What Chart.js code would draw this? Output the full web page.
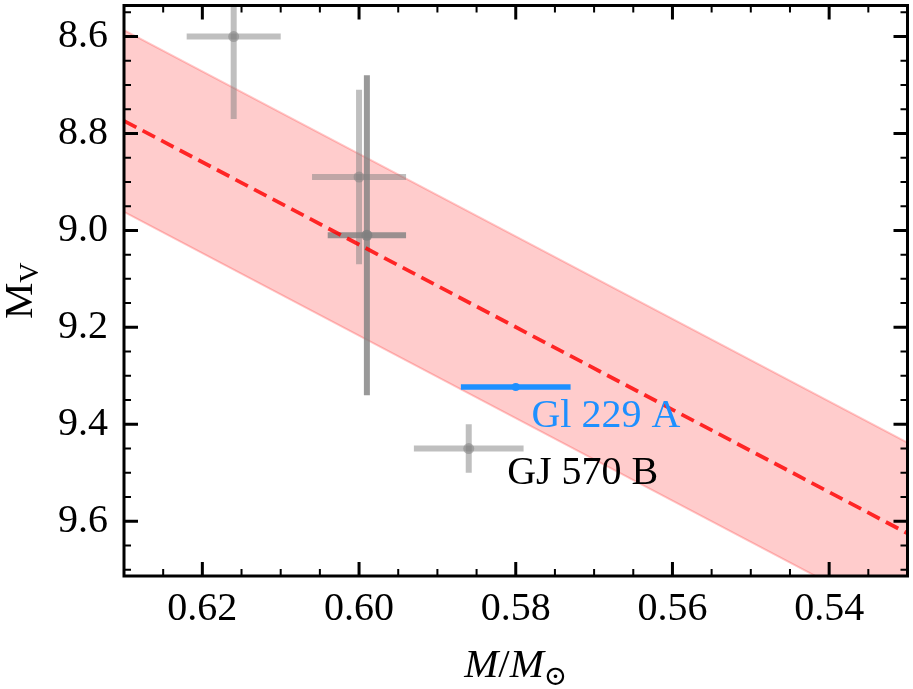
<!DOCTYPE html>
<html>
<head>
<meta charset="utf-8">
<script src="https://cdn.jsdelivr.net/npm/chart.js@4.4.1/dist/chart.umd.min.js"></script>
<style>
  body { margin: 0; background: #fff; }
  #wrap { width: 913px; height: 689px; }
</style>
</head>
<body>
<div id="wrap"><canvas id="mlr" width="913" height="689"></canvas></div>
<script>
// comparison stars (mass, M_V)
var starMass = [0.616, 0.600, 0.599, 0.586];
var starMassErr = [0.006, 0.006, 0.005, 0.007];
var starMv = [8.60, 8.89, 9.01, 9.45];
var starMvErr = [0.17, 0.18, 0.33, 0.05];

// Gl 229 A
var targetMass = [0.580];
var targetMassErr = [0.007];
var targetMv = [9.323];

// mass-luminosity relation and its band
var fitMass = [0.63, 0.53];
var fitMv = [8.774, 9.625];
var bandUpper = [8.587, 9.438];
var bandLower = [8.962, 9.813];

var xTicks = [0.62, 0.60, 0.58, 0.56, 0.54];
var yTicks = [8.6, 8.8, 9.0, 9.2, 9.4, 9.6];

var SERIF = "'Liberation Serif', 'DejaVu Serif', serif";

function pts(xs, ys) {
  return xs.map(function (x, i) { return { x: x, y: ys[i] }; });
}

// styles
var starShade = ["rgba(128,128,128,0.5)", "rgba(128,128,128,0.5)", "rgba(128,128,128,0.8)", "rgba(128,128,128,0.5)"];
var blue = "#1e90ff";

var datasets = [];

// band (drawn at the back)
datasets.push({
  data: pts(fitMass, bandUpper),
  showLine: true, fill: false, pointRadius: 0,
  borderColor: "rgba(255,0,0,0.22)", borderWidth: 2, clip: 0, order: 100
});
datasets.push({
  data: pts(fitMass, bandLower),
  showLine: true, fill: "-1", backgroundColor: "rgba(255,0,0,0.2)", pointRadius: 0,
  borderColor: "rgba(255,0,0,0.22)", borderWidth: 2, clip: 0, order: 99
});

// grey error bars
starMass.forEach(function (m, i) {
  datasets.push({
    data: [{ x: m - starMassErr[i], y: starMv[i] }, { x: m + starMassErr[i], y: starMv[i] }],
    showLine: true, pointRadius: 0, borderColor: starShade[i], borderWidth: 6, clip: 0, order: 50 - i
  });
  datasets.push({
    data: [{ x: m, y: starMv[i] - starMvErr[i] }, { x: m, y: starMv[i] + starMvErr[i] }],
    showLine: true, pointRadius: 0, borderColor: starShade[i], borderWidth: 6, clip: 0, order: 50 - i
  });
});
datasets.push({
  data: pts(starMass, starMv),
  pointRadius: 5.5, pointBorderWidth: 0, pointBackgroundColor: starShade, clip: 0, order: 40
});

// fit line
datasets.push({
  data: pts(fitMass, fitMv),
  showLine: true, pointRadius: 0, borderColor: "rgba(255,0,0,0.82)", borderWidth: 3.8,
  borderDash: [14, 7], clip: 0, order: 10
});

// Gl 229 A
datasets.push({
  data: [{ x: targetMass[0] - targetMassErr[0], y: targetMv[0] }, { x: targetMass[0] + targetMassErr[0], y: targetMv[0] }],
  showLine: true, pointRadius: 0, borderColor: blue, borderWidth: 5.5, clip: 0, order: 5
});
datasets.push({
  data: pts(targetMass, targetMv),
  pointRadius: 4, pointBorderWidth: 0, pointBackgroundColor: blue, clip: 0, order: 4
});

// text labels in data coordinates
var notes = [
  { text: "Gl 229 A", x: 0.578, y: 9.4055, color: blue },
  { text: "GJ 570 B", x: 0.5811, y: 9.5225, color: "#000" }
];

var frameTicks = {
  id: "frameTicks",
  afterDatasetsDraw: function (chart) {
    var c = chart.ctx, a = chart.chartArea;
    var sx = chart.scales.x, sy = chart.scales.y;
    c.save();
    c.strokeStyle = "#000";

    function xt(v, len, w) {
      var p = sx.getPixelForValue(v);
      c.lineWidth = w;
      c.beginPath();
      c.moveTo(p, a.bottom); c.lineTo(p, a.bottom - len);
      c.moveTo(p, a.top); c.lineTo(p, a.top + len);
      c.stroke();
    }
    function yt(v, len, w) {
      var p = sy.getPixelForValue(v);
      c.lineWidth = w;
      c.beginPath();
      c.moveTo(a.left, p); c.lineTo(a.left + len, p);
      c.moveTo(a.right, p); c.lineTo(a.right - len, p);
      c.stroke();
    }
    var v;
    for (v = 0.535; v < 0.63; v += 0.005) {
      var isMajor = xTicks.some(function (t) { return Math.abs(t - v) < 1e-6; });
      if (!isMajor) xt(v, 7, 2);
    }
    for (v = 8.55; v < 9.72; v += 0.05) {
      var isMaj = yTicks.some(function (t) { return Math.abs(t - v) < 1e-6; });
      if (!isMaj) yt(v, 7, 2);
    }
    xTicks.forEach(function (t) { xt(t, 14, 3); });
    yTicks.forEach(function (t) { yt(t, 14, 3); });

    c.lineWidth = 3;
    c.strokeRect(a.left, a.top, a.right - a.left, a.bottom - a.top);
    c.restore();
  },
  afterDraw: function (chart) {
    var c = chart.ctx, a = chart.chartArea;
    var sx = chart.scales.x, sy = chart.scales.y;
    c.save();
    c.textBaseline = "alphabetic";
    c.textAlign = "left";

    notes.forEach(function (n) {
      c.font = "40px " + SERIF;
      c.fillStyle = n.color;
      c.fillText(n.text, sx.getPixelForValue(n.x), sy.getPixelForValue(n.y));
    });

    // x title  M/M_sun
    c.fillStyle = "#000";
    var parts = [
      { t: "M", f: "italic 41px " + SERIF, dy: 0 },
      { t: "/", f: "41px " + SERIF, dy: 0 },
      { t: "M", f: "italic 41px " + SERIF, dy: 0 },
      { t: "\u2299", f: "28px " + SERIF, dy: 8 }
    ];
    var w = 0;
    parts.forEach(function (p) { c.font = p.f; p.w = c.measureText(p.t).width; w += p.w; });
    var x = (a.left + a.right) / 2 - w / 2;
    parts.forEach(function (p) { c.font = p.f; c.fillText(p.t, x, 677 + p.dy); x += p.w; });

    // y title  M_V
    c.translate(32, (a.top + a.bottom) / 2);
    c.rotate(-Math.PI / 2);
    c.font = "41px " + SERIF;
    var wm = c.measureText("M").width;
    c.font = "28px " + SERIF;
    var wv = c.measureText("V").width;
    var x0 = -(wm + wv) / 2;
    c.font = "41px " + SERIF;
    c.fillText("M", x0, 0);
    c.font = "28px " + SERIF;
    c.fillText("V", x0 + wm, 6);
    c.restore();
  }
};

function noPad(s) {
  s.paddingTop = 0; s.paddingBottom = 0; s.paddingLeft = 0; s.paddingRight = 0;
}

new Chart(document.getElementById("mlr"), {
  type: "scatter",
  data: { datasets: datasets },
  options: {
    responsive: false,
    animation: false,
    devicePixelRatio: 1,
    layout: { padding: { top: 2, right: 4, left: 0, bottom: 0 } },
    plugins: { legend: { display: false }, tooltip: { enabled: false } },
    scales: {
      x: {
        type: "linear",
        reverse: true,
        min: 0.53,
        max: 0.63,
        grid: { display: false, drawTicks: false },
        border: { display: false },
        afterBuildTicks: function (s) { s.ticks = xTicks.map(function (v) { return { value: v }; }); },
        afterFit: function (s) { s.height = 113; noPad(s); },
        ticks: {
          autoSkip: false, maxRotation: 0, padding: 13, color: "#000",
          font: { family: SERIF, size: 40, lineHeight: 1 },
          callback: function (v) { return Number(v).toFixed(2); }
        }
      },
      y: {
        type: "linear",
        reverse: true,
        min: 8.536,
        max: 9.713,
        grid: { display: false, drawTicks: false },
        border: { display: false },
        afterBuildTicks: function (s) { s.ticks = yTicks.map(function (v) { return { value: v }; }); },
        afterFit: function (s) { s.width = 124; noPad(s); },
        ticks: {
          autoSkip: false, padding: 16, color: "#000",
          font: { family: SERIF, size: 40, lineHeight: 1 },
          callback: function (v) { return Number(v).toFixed(1); }
        }
      }
    }
  },
  plugins: [frameTicks]
});
</script>
</body>
</html>
